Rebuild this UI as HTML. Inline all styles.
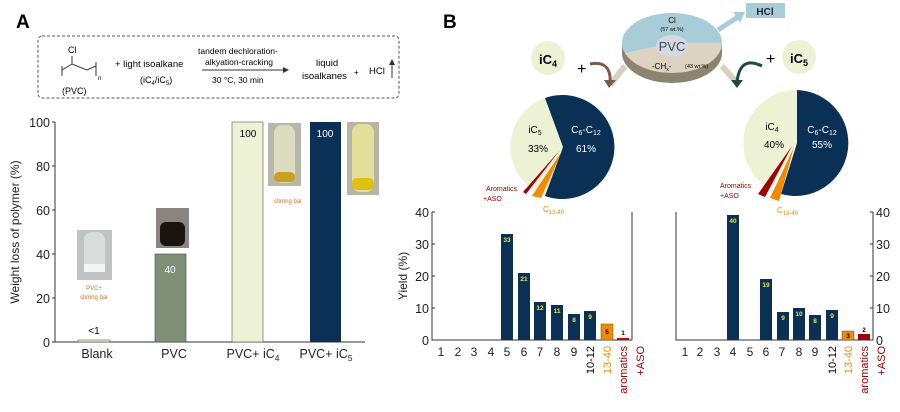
<!DOCTYPE html>
<html><head><style>body{margin:0;background:#fff}svg{display:block;font-family:"Liberation Sans",Arial,sans-serif}</style></head><body>
<svg width="900" height="412" viewBox="0 0 900 412">
<defs><marker id="ah" markerWidth="6" markerHeight="6" refX="5" refY="3" orient="auto"><path d="M0,0L6,3L0,6z" fill="#333"/></marker></defs>
<!-- Panel A -->
<text x="16" y="28" font-size="19" font-weight="bold">A</text>
<rect x="38" y="36" width="361" height="62" rx="4" fill="none" stroke="#555" stroke-dasharray="3,2"/>
<text x="68" y="53" font-size="9">Cl</text>
<path d="M62,66 L62,76 M62,70 L72,64 L87,70 L96,66 M96,62 L96,76 M72,64 L72,56" stroke="#333" fill="none" stroke-width="1"/>
<text x="98" y="80" font-size="6">n</text>
<text x="62" y="94" font-size="9">(PVC)</text>
<text x="115" y="67" font-size="9.5">+ light isoalkane</text>
<text x="140" y="83" font-size="9">(iC<tspan font-size="6" dy="2">4</tspan><tspan dy="-2">/iC</tspan><tspan font-size="6" dy="2">5</tspan><tspan dy="-2">)</tspan></text>
<text x="198" y="54" font-size="8.5">tandem dechloration-</text>
<text x="205" y="65" font-size="8.5">alkyation-cracking</text>
<line x1="202" y1="70" x2="288" y2="70" stroke="#333" marker-end="url(#ah)"/>
<text x="212" y="83" font-size="8.5">30 °C, 30 min</text>
<text x="316" y="66" font-size="9.5">liquid</text>
<text x="302" y="79" font-size="9.5">isoalkanes</text>
<text x="354" y="75" font-size="8">+</text>
<text x="369" y="74" font-size="9.5">HCl</text>
<line x1="392" y1="78" x2="392" y2="60" stroke="#333" marker-end="url(#ah)"/>
<g font-size="12.5" fill="#222" text-anchor="end">
<text x="50" y="127">100</text><text x="50" y="171">80</text><text x="50" y="215">60</text><text x="50" y="259">40</text><text x="50" y="303">20</text><text x="50" y="347">0</text></g>
<path d="M55,122 L55,342 L365,342" stroke="#333" fill="none"/>
<g stroke="#333"><line x1="52" y1="122" x2="55" y2="122"/><line x1="52" y1="166" x2="55" y2="166"/><line x1="52" y1="210" x2="55" y2="210"/><line x1="52" y1="254" x2="55" y2="254"/><line x1="52" y1="298" x2="55" y2="298"/><line x1="52" y1="342" x2="55" y2="342"/></g>
<text transform="translate(19,232) rotate(-90)" font-size="12" text-anchor="middle" fill="#222">Weight loss of polymer (%)</text>
<rect x="78" y="340" width="32" height="2" fill="#eef2d4" stroke="#555" stroke-width="0.6"/>
<rect x="155" y="254" width="31" height="88" fill="#7f8f78" stroke="#444" stroke-width="0.6"/>
<rect x="232" y="122" width="31" height="220" fill="#eef2d4" stroke="#555" stroke-width="0.6"/>
<rect x="310" y="122" width="31" height="220" fill="#0a3055"/>
<text x="94" y="334" font-size="10" text-anchor="middle">&lt;1</text>
<text x="170" y="273" font-size="10" text-anchor="middle" fill="#fff">40</text>
<text x="248" y="137" font-size="10" text-anchor="middle">100</text>
<text x="325" y="137" font-size="10" text-anchor="middle" fill="#fff">100</text>
<g font-size="12.5" text-anchor="middle" fill="#222">
<text x="97" y="358">Blank</text><text x="174" y="358">PVC</text>
<text x="253" y="358">PVC+ iC<tspan font-size="8.5" dy="3">4</tspan></text>
<text x="326" y="358">PVC+ iC<tspan font-size="8.5" dy="3">5</tspan></text></g>
<!-- photos -->
<rect x="77" y="230" width="35" height="50" fill="#bfc4c3"/><rect x="84" y="232" width="21" height="40" rx="8" fill="#d8dcdb"/><rect x="84" y="264" width="21" height="8" fill="#f4f6f6"/>
<text x="94" y="290" font-size="6" fill="#e07020" text-anchor="middle">PVC+</text><text x="94" y="299" font-size="6" fill="#e07020" text-anchor="middle">stirring bar</text>
<rect x="156" y="208" width="33" height="40" fill="#8a8580"/><rect x="160" y="222" width="25" height="24" rx="6" fill="#1a1410"/>
<rect x="268" y="123" width="33" height="63" fill="#b9b8a8"/><rect x="274" y="125" width="21" height="58" rx="8" fill="#dcdcc0"/><rect x="274" y="172" width="21" height="10" rx="5" fill="#c9a020"/>
<text x="288" y="203" font-size="6" fill="#e07020" text-anchor="middle">stirring bar</text>
<rect x="347" y="122" width="32" height="73" fill="#b5b5a6"/><rect x="352" y="124" width="22" height="68" rx="8" fill="#e4df98"/><rect x="352" y="178" width="22" height="12" rx="5" fill="#e0c010"/>
<!-- Panel B -->
<text x="443" y="28" font-size="19" font-weight="bold">B</text>
<ellipse cx="672" cy="53" rx="50" ry="30" fill="#8d8470"/>
<rect x="622" y="43" width="100" height="10" fill="#8d8470"/>
<ellipse cx="672" cy="43" rx="50" ry="30" fill="#ddd3c0"/>
<path d="M622,43 A50,30 0 0 1 722,43 L672,43 Z" fill="#a9cdd8"/>
<path d="M622,43 L672,43 L625,53 Z" fill="#a9cdd8"/>
<ellipse cx="672" cy="46" rx="16" ry="11" fill="#d6dadc"/>
<text x="672" y="23" font-size="8" text-anchor="middle">Cl</text>
<text x="672" y="31" font-size="5.5" text-anchor="middle">(57 wt.%)</text>
<text x="672" y="51" font-size="13" text-anchor="middle" fill="#3a4a6a">PVC</text>
<text x="652" y="69" font-size="8">-CH<tspan font-size="5" dy="2">x</tspan><tspan dy="-2">-</tspan></text>
<text x="685" y="68" font-size="5.5">(43 wt.%)</text>
<path d="M718,30 L738,17" stroke="#a9cdd8" stroke-width="5"/><path d="M733,12 L745,12 L740,23 z" fill="#a9cdd8"/>
<rect x="746" y="3" width="39" height="15" fill="#a9cdd8"/><text x="765" y="15" font-size="10" font-weight="bold" text-anchor="middle" fill="#1a2a3a">HCl</text>
<path d="M625,66 L610,85" stroke="#d8cfbd" stroke-width="6"/>
<path d="M722,66 L737,83" stroke="#d8cfbd" stroke-width="6"/>
<circle cx="548" cy="58" r="17" fill="#eef2d4"/><text x="548" y="64" font-size="13" font-weight="bold" text-anchor="middle">iC<tspan font-size="9" dy="3">4</tspan></text>
<text x="577" y="74" font-size="16">+</text>
<path d="M590,64 Q612,60 610,84" stroke="#7a5a48" stroke-width="3" fill="none"/><path d="M604,80 L616,80 L609,88z" fill="#7a5a48"/>
<circle cx="799" cy="57" r="17" fill="#eef2d4"/><text x="799" y="63" font-size="13" font-weight="bold" text-anchor="middle">iC<tspan font-size="9" dy="3">5</tspan></text>
<text x="766" y="64" font-size="16">+</text>
<path d="M762,66 Q740,55 737,82" stroke="#1f4a44" stroke-width="3" fill="none"/><path d="M731,80 L743,80 L737,88z" fill="#1f4a44"/>
<!-- left pie -->
<path d="M563,147 L545,98 A52,52 0 0 0 545,196 Z" fill="#eef2d4"/>
<path d="M563,147 L545,98 A52,52 0 1 1 545,196 Z" fill="#0a3055"/>
<path d="M562,151 L541,198 L532,196 Z" fill="#f08a00"/>
<path d="M560,150 L526,194 L523,192 Z" fill="#a00000"/>
<text x="535" y="133" font-size="10" text-anchor="middle">iC<tspan font-size="7" dy="2">5</tspan></text>
<text x="538" y="152" font-size="10" text-anchor="middle">33%</text>
<text x="586" y="133" font-size="10" text-anchor="middle" fill="#fff">C<tspan font-size="7" dy="2">6</tspan><tspan dy="-2">-C</tspan><tspan font-size="7" dy="2">12</tspan></text>
<text x="586" y="152" font-size="10" text-anchor="middle" fill="#fff">61%</text>
<text x="486" y="191" font-size="7" fill="#a00000">Aromatics</text><text x="483" y="201" font-size="7" fill="#a00000">+ASO</text>
<text x="543" y="212" font-size="8" fill="#f08a00">C<tspan font-size="6" dy="2">13-40</tspan></text>
<!-- right pie -->
<path d="M797,143 L797,90 A53,53 0 0 0 770,189 Z" fill="#eef2d4"/>
<path d="M797,143 L797,90 A53,53 0 1 1 781,194 Z" fill="#0a3055"/>
<path d="M794,147 L779,201 L770,198 Z" fill="#f08a00"/>
<path d="M792,146 L765,197 L758,194 Z" fill="#a00000"/>
<text x="772" y="130" font-size="10" text-anchor="middle">iC<tspan font-size="7" dy="2">4</tspan></text>
<text x="774" y="148" font-size="10" text-anchor="middle">40%</text>
<text x="822" y="133" font-size="10" text-anchor="middle" fill="#fff">C<tspan font-size="7" dy="2">6</tspan><tspan dy="-2">-C</tspan><tspan font-size="7" dy="2">12</tspan></text>
<text x="822" y="148" font-size="10" text-anchor="middle" fill="#fff">55%</text>
<text x="720" y="188" font-size="7" fill="#a00000">Aromatics</text><text x="720" y="198" font-size="7" fill="#a00000">+ASO</text>
<text x="777" y="213" font-size="8" fill="#f08a00">C<tspan font-size="6" dy="2">13-40</tspan></text>
<!-- left bars -->
<path d="M432,212 L432,340 L632,340 M632,212 L632,340" stroke="#333" fill="none"/>
<g stroke="#333"><line x1="432" y1="244" x2="435" y2="244"/><line x1="432" y1="276" x2="435" y2="276"/><line x1="432" y1="308" x2="435" y2="308"/><line x1="432" y1="212" x2="435" y2="212"/></g>
<g font-size="12.5" text-anchor="end" fill="#222"><text x="429" y="217">40</text><text x="429" y="249">30</text><text x="429" y="281">20</text><text x="429" y="313">10</text><text x="429" y="345">0</text></g>
<text transform="translate(407,276) rotate(-90)" font-size="12" text-anchor="middle" fill="#222">Yield (%)</text>
<g fill="#0a3055"><rect x="501" y="234" width="12" height="106"/><rect x="518" y="273" width="12" height="67"/><rect x="534" y="302" width="12" height="38"/><rect x="551" y="305" width="12" height="35"/><rect x="568" y="314" width="12" height="26"/><rect x="584" y="311" width="12" height="29"/></g>
<rect x="601" y="324" width="12" height="16" fill="#f08a00" stroke="#555" stroke-width="0.5"/>
<rect x="617" y="338" width="12" height="2" fill="#d00000"/>
<g font-size="6.5" font-weight="bold" fill="#e8e840" text-anchor="middle"><text x="507" y="242">33</text><text x="524" y="281">21</text><text x="540" y="310">12</text><text x="557" y="313">11</text><text x="574" y="322">8</text><text x="590" y="319">9</text></g>
<text x="607" y="334" font-size="6.5" font-weight="bold" text-anchor="middle">5</text>
<text x="623" y="335" font-size="6.5" font-weight="bold" text-anchor="middle">1</text>
<g font-size="12" text-anchor="middle" fill="#222"><text x="441" y="356">1</text><text x="458" y="356">2</text><text x="474" y="356">3</text><text x="491" y="356">4</text><text x="507" y="356">5</text><text x="524" y="356">6</text><text x="540" y="356">7</text><text x="557" y="356">8</text><text x="574" y="356">9</text></g>
<text transform="translate(594,346) rotate(-90)" font-size="11" text-anchor="end">10-12</text>
<text transform="translate(611,346) rotate(-90)" font-size="11" text-anchor="end" fill="#f08a00">13-40</text>
<text transform="translate(627,346) rotate(-90)" font-size="11" text-anchor="end" fill="#a00000">aromatics</text>
<text transform="translate(644,346) rotate(-90)" font-size="11" text-anchor="end" fill="#a00000">+ASO</text>
<!-- right bars -->
<path d="M676,212 L676,340 L873,340 L873,212" stroke="#333" fill="none"/>
<g stroke="#333"><line x1="870" y1="244" x2="873" y2="244"/><line x1="870" y1="276" x2="873" y2="276"/><line x1="870" y1="308" x2="873" y2="308"/><line x1="870" y1="212" x2="873" y2="212"/></g>
<g font-size="12.5" fill="#222"><text x="876" y="217">40</text><text x="876" y="249">30</text><text x="876" y="281">20</text><text x="876" y="313">10</text><text x="876" y="345">0</text></g>
<g fill="#0a3055"><rect x="727" y="215" width="12" height="125"/><rect x="760" y="279" width="12" height="61"/><rect x="777" y="312" width="12" height="28"/><rect x="793" y="308" width="12" height="32"/><rect x="809" y="315" width="12" height="25"/><rect x="826" y="310" width="12" height="30"/></g>
<rect x="842" y="331" width="12" height="9" fill="#f08a00" stroke="#555" stroke-width="0.5"/>
<rect x="858" y="334" width="12" height="6" fill="#a00000"/>
<g font-size="6.5" font-weight="bold" fill="#e8e840" text-anchor="middle"><text x="733" y="223">40</text><text x="766" y="287">19</text><text x="783" y="320">9</text><text x="799" y="316">10</text><text x="815" y="323">8</text><text x="832" y="318">9</text></g>
<text x="848" y="338" font-size="6.5" font-weight="bold" text-anchor="middle">3</text>
<text x="864" y="332" font-size="6.5" font-weight="bold" text-anchor="middle">2</text>
<g font-size="12" text-anchor="middle" fill="#222"><text x="685" y="356">1</text><text x="700" y="356">2</text><text x="717" y="356">3</text><text x="733" y="356">4</text><text x="750" y="356">5</text><text x="766" y="356">6</text><text x="782" y="356">7</text><text x="799" y="356">8</text><text x="815" y="356">9</text></g>
<text transform="translate(836,346) rotate(-90)" font-size="11" text-anchor="end">10-12</text>
<text transform="translate(852,346) rotate(-90)" font-size="11" text-anchor="end" fill="#f08a00">13-40</text>
<text transform="translate(868,346) rotate(-90)" font-size="11" text-anchor="end" fill="#a00000">aromatics</text>
<text transform="translate(885,346) rotate(-90)" font-size="11" text-anchor="end" fill="#a00000">+ASO</text>
</svg>
</body></html>
